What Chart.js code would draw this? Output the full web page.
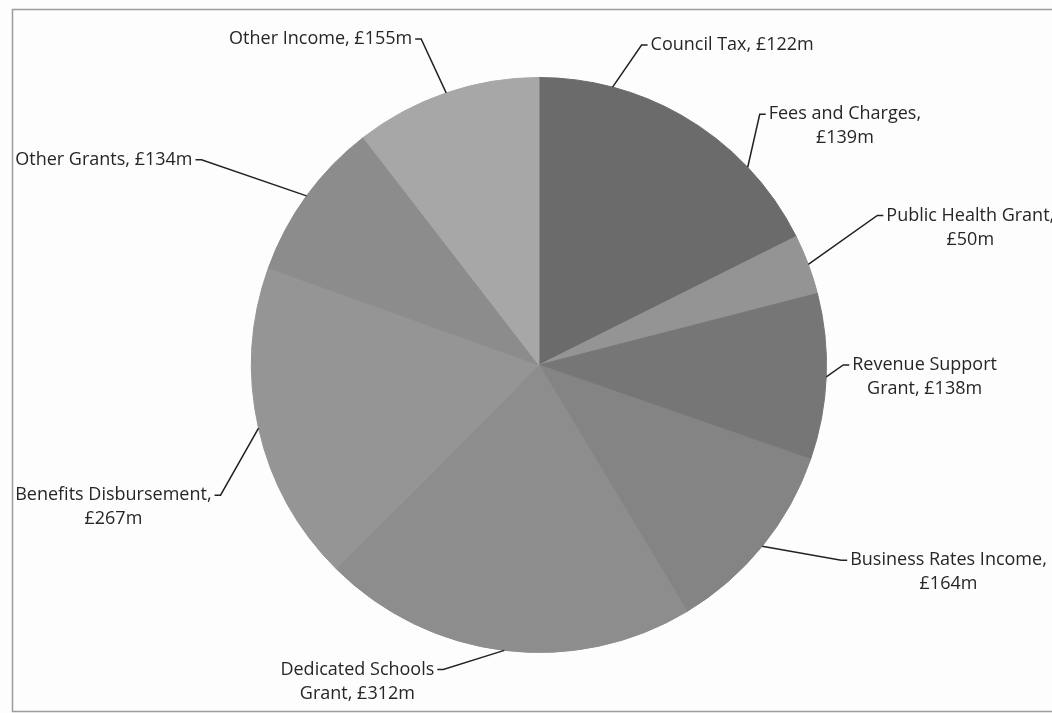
<!DOCTYPE html>
<html lang="en">
<head>
    <meta charset="UTF-8">
    <title>Income breakdown</title>
    <style>
        body {
            margin: 0;
            padding: 0;
            background-color: #fdfdfd;
        }
        .chart-container {
            width: 1052px;
            height: 713px;
        }
    </style>
    <script src="https://cdn.jsdelivr.net/npm/chart.js"></script>
</head>
<body>
    <div class="chart-container">
        <canvas id="incomeChart"></canvas>
    </div>

    <script>
        // Income sources (£m), clockwise from 12 o'clock
        const categories = [
            'Council Tax', 'Fees and Charges', 'Public Health Grant', 'Revenue Support Grant',
            'Business Rates Income', 'Dedicated Schools Grant', 'Benefits Disbursement',
            'Other Grants', 'Other Income'
        ];
        const amounts = [122, 139, 50, 138, 164, 312, 267, 134, 155];

        // label text, as wrapped in the original
        const labelLines = [
            ['Council Tax, £122m'],
            ['Fees and Charges,', '£139m'],
            ['Public Health Grant,', '£50m'],
            ['Revenue Support', 'Grant, £138m'],
            ['Business Rates Income,', '£164m'],
            ['Dedicated Schools', 'Grant, £312m'],
            ['Benefits Disbursement,', '£267m'],
            ['Other Grants, £134m'],
            ['Other Income, £155m']
        ];

        const sliceColours = ['#6b6b6b', '#6b6b6b', '#949494', '#767676', '#848484',
                              '#8d8d8d', '#959595', '#8c8c8c', '#a7a7a7'];

        // where each leader line bends, relative to the slice's edge midpoint
        const leaderOffsets = [
            [35, -42], [18, -53], [75, -49], [23, -12], [85, 14],
            [-67, 19], [-44, 67], [-111, -36], [-31, -54]
        ];

        const labelFont = '18px "Open Sans", sans-serif';

        const frameAndLabels = {
            id: 'frameAndLabels',
            beforeDraw(chart) {
                const c = chart.ctx;
                c.save();
                c.fillStyle = '#fdfdfd';
                c.fillRect(0, 0, chart.width, chart.height);
                c.strokeStyle = '#9c9c9c';
                c.lineWidth = 1.5;
                c.strokeRect(12.5, 9.5, chart.width + 20, chart.height - 11);
                c.restore();
            },
            afterDatasetsDraw(chart) {
                const c = chart.ctx;
                const meta = chart.getDatasetMeta(0);
                c.save();
                c.font = labelFont;
                c.fillStyle = '#262626';
                c.strokeStyle = '#222';
                c.lineWidth = 1.5;
                c.textBaseline = 'middle';
                meta.data.forEach((arc, i) => {
                    const mid = (arc.startAngle + arc.endAngle) / 2;
                    const ex = arc.x + Math.cos(mid) * arc.outerRadius;
                    const ey = arc.y + Math.sin(mid) * arc.outerRadius;
                    const bx = ex + leaderOffsets[i][0];
                    const by = ey + leaderOffsets[i][1];
                    const dir = leaderOffsets[i][0] >= 0 ? 1 : -1;

                    c.beginPath();
                    c.moveTo(ex, ey);
                    c.lineTo(bx - dir * 6, by);
                    c.lineTo(bx, by);
                    c.stroke();

                    const lines = labelLines[i];
                    const w = Math.max(...lines.map(l => c.measureText(l).width));
                    const left = dir > 0 ? bx + 3 : bx - 3 - w;
                    c.textAlign = 'center';
                    lines.forEach((l, j) => {
                        c.fillText(l, left + w / 2, by + j * 24);
                    });
                });
                c.restore();
            }
        };

        const ctx = document.getElementById('incomeChart').getContext('2d');
        const incomeChart = new Chart(ctx, {
            type: 'pie',
            data: {
                labels: categories,
                datasets: [{
                    data: amounts,
                    backgroundColor: sliceColours,
                    borderColor: sliceColours,
                    borderWidth: 1
                }]
            },
            options: {
                responsive: true,
                maintainAspectRatio: false,
                animation: false,
                events: [],
                layout: {
                    padding: { top: 77, bottom: 60, left: 26, right: 0 }
                },
                plugins: {
                    legend: { display: false },
                    tooltip: { enabled: false }
                }
            },
            plugins: [frameAndLabels]
        });
    </script>
</body>
</html>
